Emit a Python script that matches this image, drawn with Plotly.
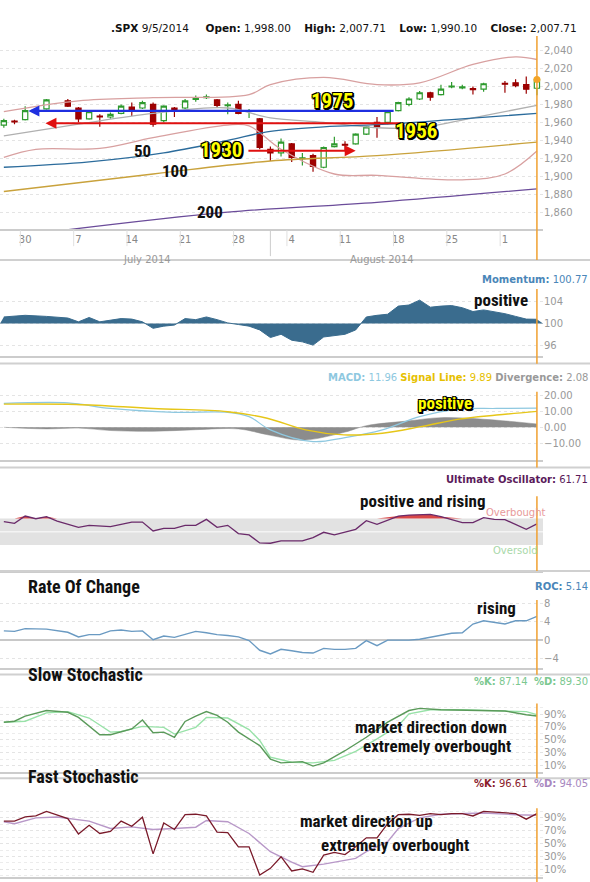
import plotly.graph_objects as go
import numpy as np

W, H = 590, 882
XR = [-0.36, 50.57]
XD = 543 / W

# ---------------- data ----------------
candle_x = [0, 1, 2, 4, 6, 7, 8, 9, 10, 11, 12, 13, 14, 15, 16, 17, 18, 19, 20, 21, 22, 23, 24, 25, 26, 27, 28, 29,
            30, 31, 32, 33, 34, 35, 36, 37, 38, 39, 40, 41, 42, 43, 44, 45, 47, 48, 49, 50]
c_open = [1957, 1961.5, 1963, 1975, 1984, 1976, 1964, 1967, 1966, 1970, 1977, 1976, 1980, 1962, 1976, 1976, 1985.5,
          1987.5, 1985, 1978.5, 1980, 1972.2, 1964, 1930, 1926, 1936, 1919.5, 1923, 1910, 1933, 1935.5, 1936, 1947,
          1960, 1960, 1973, 1980, 1986, 1993, 1991, 1999.5, 1998.5, 1997.5, 1997, 2003.5, 2004, 2002, 1998]
c_close = [1962, 1960.5, 1973, 1985, 1978, 1964, 1972, 1966, 1969, 1978, 1973, 1982, 1958, 1978, 1973, 1984, 1986.5,
           1988.5, 1979, 1979.5, 1970, 1973.2, 1932, 1926, 1938, 1921, 1920.5, 1911, 1932, 1936, 1934.5, 1947, 1955,
           1955, 1972, 1982, 1986, 1993, 1988, 1997, 2000.5, 1999.5, 1996.5, 2003, 2002.5, 2001, 1997, 2007.71]
c_high = [1964, 1963, 1978, 1986, 1986, 1977, 1973, 1969, 1971, 1980, 1982, 1984, 1982, 1979, 1977, 1986, 1990, 1991,
          1986, 1982, 1984, 1975, 1965, 1933, 1942, 1937, 1926, 1925, 1933, 1944, 1939, 1948, 1956, 1966, 1973, 1983,
          1988, 1995, 1994, 2002, 2005, 2002, 2000, 2004, 2006, 2008, 2011, 2007.71]
c_low = [1954, 1958, 1962, 1974, 1977, 1960, 1963, 1955, 1964, 1969, 1967, 1975, 1955, 1960, 1966, 1975, 1983, 1986,
         1976, 1969, 1969, 1965, 1930, 1917, 1922, 1916, 1912, 1905, 1909, 1932, 1928, 1935, 1946, 1943, 1958, 1972,
         1978, 1985, 1984, 1990, 1998, 1997, 1991, 1994, 1993, 1999, 1992, 1990.10]

ma50_x = [0, 8, 15, 21, 25, 30, 36, 42, 50]
ma50_y = [1910, 1916, 1926, 1940, 1950, 1955, 1958, 1963, 1970]
ma100_x = [0, 14, 25, 35, 50]
ma100_y = [1883, 1902.5, 1917, 1923, 1938]
ma200_x = [5, 21, 35, 50]
ma200_y = [1839, 1860, 1871, 1886]
mid_x = [0, 7, 14, 21, 25, 30, 35, 39, 44, 50]
mid_y = [1945, 1958, 1970, 1976, 1965, 1960, 1954, 1954, 1965, 1979]
bbu_x = [0, 7, 14, 23, 25, 30, 35, 39, 44, 48, 50]
bbu_y = [1972, 1984, 1987.5, 1991, 2002, 2010, 2002, 2004, 2024.5, 2033, 2030]
bbl_x = [0, 3, 9, 14, 21, 23, 26, 31, 35, 43, 47, 50]
bbl_y = [1921, 1930, 1931, 1943, 1957, 1956, 1930, 1902.5, 1901, 1896, 1902.5, 1928]

level_labels = ["1975", "1956", "1930"]
level_line_y = [1972.7, 1959, 1928.4]
level_from = [36.7, 37.3, 22.8]
level_to = [2.3, 3.9, 33.0]
level_text_x = [30.8, 38.7, 20.4]
level_text_y = [1983.8, 1950.6, 1929]
level_colors = ["#1f2fe0", "#e01010", "#e01010"]

ma_labels = ["50", "100", "200"]
ma_label_x = [13.0, 16.1, 19.3]
ma_label_y = [1928, 1906, 1860]

tick_idx = [2, 7, 12, 17, 22, 27, 32, 37, 42, 47]
tick_txt = ["30", "7", "14", "21", "28", "4", "11", "18", "25", "1"]
months = ["July 2014", "August 2014"]
month_x = [13.4, 35.5]

mom_x = candle_x
mom_y = [101.2, 101.3, 101.5, 101.3, 101.0, 100.3, 101.1, 100.3, 100.6, 100.9, 100.8, 100.3, 99.1, 99.5, 99.7, 100.9,
         100.7, 101.2, 100.7, 100.1, 99.8, 99.5, 98.8, 97.4, 98.0, 96.9, 96.6, 96.0, 97.5, 97.8, 98.0, 98.8, 101.2,
         101.5, 101.7, 103.2, 103.4, 104.3, 103.0, 103.2, 103.3, 102.9, 102.2, 102.5, 101.8, 101.3, 100.8, 100.77]

macd_x = [0, 6, 10, 16, 21, 23, 25, 29, 32, 35.5, 39, 42.7, 46.2, 50]
macd_y = [14.8, 15.2, 11.7, 9.3, 9.3, 6.6, -1.6, -8.9, -6.4, -1.6, 6.6, 11.3, 11.7, 11.96]
sig_x = [0, 6.8, 14, 21, 24.7, 28.3, 31.9, 35.5, 39.1, 42.7, 46.2, 50]
sig_y = [14.4, 14.2, 11.7, 9.7, 5.6, -1.6, -4.7, -3.7, 0.4, 5.1, 7.6, 9.89]
div_x = [0, 4, 7, 10, 14, 18, 22, 25, 28, 32, 34, 38, 41, 45, 50]
div_y = [0, -1, -0.5, -2, -2.5, -1.5, -1, -5, -8, -3, 1, 4, 6, 5, 2.08]

uo_x = [0, 1, 2, 3, 4, 5, 7, 8, 10, 11, 12, 13, 14, 15, 16, 17, 18, 19, 20, 21, 22, 23, 24, 25, 26, 28, 29, 30, 31,
        33, 34, 35, 37, 38, 40, 41, 43, 44, 45, 46, 47, 49, 50]
uo_y = [65, 62.5, 73.5, 69.5, 72.5, 66, 56.5, 59.5, 57.5, 61, 64.5, 64.5, 51, 55, 55, 59.5, 59.5, 68.5, 56.5, 59.5,
        47, 45, 33, 32.5, 36, 36, 41, 49, 45, 53.5, 66.5, 61, 73.5, 75, 76, 72.5, 63.5, 63.5, 71, 68.5, 68, 53.5, 61.71]

roc_x = [0, 1, 2, 3, 4, 6, 7, 8, 9, 10, 11, 12, 13, 14, 15, 16] + list(range(18, 51))
roc_y = [2.0, 1.9, 2.5, 2.4, 2.4, 1.7, 0.7, 1.2, 1.2, 2.0, 2.2, 1.9, 2.0, 0.1, 0.9, 0.6, 1.9, 1.6, 1.2, 1.0, 0.7,
         -0.1, -2.2, -3.0, -2.0, -2.3, -2.7, -2.8, -1.8, -2.0, -2.0, -1.8, -0.1, -1.2, 0, 0, 0, 0.2, 0.6, 1.1, 1.5,
         1.6, 3.5, 4.2, 3.8, 3.5, 4.2, 4.2, 5.14]

sk_x = [0, 1, 2, 4, 6, 7, 9, 10, 12, 13, 14, 15, 16, 17, 18, 19, 20, 21, 22, 24, 25, 26, 28, 29, 30, 32, 34, 36, 38,
        39, 41, 44, 47, 49, 50]
sk_y = [77.5, 79, 87, 95.7, 93, 85, 58, 58, 67, 81, 61, 62, 54, 78.6, 87, 94, 88, 77.5, 62, 41, 20, 14, 16, 9, 14,
        33, 54, 77.5, 95.7, 99, 96.8, 95.7, 95, 89, 87.14]
sd_x = [0, 2, 4, 6, 8, 10, 11, 13, 15, 16, 18, 19, 21, 23, 24, 25, 27, 29, 31, 33, 35, 37, 38, 40, 43, 46, 49, 50]
sd_y = [77.5, 79, 92, 94, 84, 62, 63, 71, 69.5, 59, 69.5, 85, 84, 66, 49, 23, 15, 14, 18, 32, 51.5, 72, 90.5, 96.8,
        96.8, 95.7, 94, 89.3]

fk_x = list(range(0, 47)) + [48, 49, 50]
fk_y = [85, 85, 91.5, 93, 100, 95, 89, 65, 78.6, 65.7, 69, 85, 77, 91, 34, 82, 72, 95, 95.7, 93, 68, 67, 45, 45, 1.2,
        11.5, 29.6, 7.4, 10.5, 5.4, 32, 36.3, 33, 45, 59, 59, 81, 95, 95.7, 94, 96.7, 95, 96.7, 96.7, 93, 100, 99,
        96.7, 88, 96.61]
fd_x = [0, 1, 3, 5, 8, 10, 12, 14, 16, 18, 19, 21, 23, 25, 27, 28, 30, 33, 34, 36, 37, 39, 41, 45, 48, 50]
fd_y = [84, 81, 90, 91.5, 85, 73.5, 76, 72, 73.5, 75.5, 86, 84, 65.7, 37.4, 21, 14, 18, 27, 37.4, 53, 73.5, 90,
        95.7, 97.7, 95, 94]

# ---------------- layout helpers ----------------
def py(px):
    return 1 - px / H

panels = {  # top px, bottom px
    1: (33, 227), 2: (287.3, 354.3), 3: (390.7, 459), 4: (495, 570),
    5: (599.3, 667.3), 6: (703.3, 771.7), 7: (808, 877)}
orange_spans = {1: (33, 258), 2: (287, 362), 3: (390, 466), 4: (495, 570), 5: (599, 674), 6: (703, 778), 7: (808, 882)}
yranges = {1: [1841, 2056.3], 2: [93.97, 106.3], 3: [-20.6, 21.7], 4: [-9.5, 103.3],
           5: [-6.06, 8.66], 6: [-0.3, 106], 7: [-2, 105]}

fig = go.Figure()
NARROW = "Liberation Sans Narrow, Roboto Condensed, Arial Narrow, sans-serif"
SHADOW = "-1px -1px 0 #000, 1px -1px 0 #000, -1px 1px 0 #000, 1px 1px 0 #000, 2px 2px 0 #000, 0 2px 0 #000, 2px 0 0 #000"

def ax(n):
    return ("x" if n == 1 else f"x{n}"), ("y" if n == 1 else f"y{n}")

def line(n, x, y, color, width=1.2, **kw):
    xa, ya = ax(n)
    fig.add_trace(go.Scatter(x=x, y=y, mode="lines", line=dict(color=color, width=width), xaxis=xa, yaxis=ya,
                             hoverinfo="skip", **kw))

for xs, ys, col in [(bbu_x, bbu_y, "#d8a0a0"), (bbl_x, bbl_y, "#d8a0a0"), (mid_x, mid_y, "#b0b0b0"),
                    (ma50_x, ma50_y, "#2c6c9c"), (ma100_x, ma100_y, "#c9a23c"), (ma200_x, ma200_y, "#6b4c9a")]:
    line(1, xs, ys, col, 1.3, line_shape="spline")
fig.add_trace(go.Candlestick(x=candle_x, open=c_open, high=c_high, low=c_low, close=c_close, whiskerwidth=0,
                             increasing=dict(line=dict(color="#2e9a2e", width=1.2), fillcolor="white"),
                             decreasing=dict(line=dict(color="#9a0000", width=1.2), fillcolor="#a00000"),
                             xaxis="x", yaxis="y", hoverinfo="skip"))
fig.add_trace(go.Scatter(x=[candle_x[-1]], y=[c_high[-1]], mode="markers", marker=dict(color="#f5a623", size=7),
                         xaxis="x", yaxis="y", hoverinfo="skip"))

line(2, [XR[0], XR[1]], [100, 100], "rgba(0,0,0,0)", 0)
line(2, mom_x, mom_y, "#3a6c8e", 1, fill="tonexty", fillcolor="#3a6c8e")
line(3, div_x, div_y, "#8c8c8c", 0.5, fill="tozeroy", fillcolor="#8c8c8c", line_shape="spline")
line(3, macd_x, macd_y, "#8ec8e0", 1.2, line_shape="spline")
line(3, sig_x, sig_y, "#e6c619", 1.4, line_shape="spline")
line(4, uo_x, [70] * len(uo_x), "rgba(0,0,0,0)", 0)
line(4, uo_x, list(np.maximum(uo_y, 70)), "rgba(0,0,0,0)", 0, fill="tonexty", fillcolor="#d84848")
line(4, uo_x, uo_y, "#6a2a6a", 1.3)
line(5, roc_x, roc_y, "#6a9ac2", 1.4)
line(6, sd_x, sd_y, "#98e2a8", 1.4)
line(6, sk_x, sk_y, "#5a9a5a", 1.4)
line(7, fd_x, fd_y, "#b898c8", 1.4)
line(7, fk_x, fk_y, "#7a1a2a", 1.3)

layout = dict(width=W, height=H, margin=dict(l=0, r=0, t=0, b=0), showlegend=False,
              paper_bgcolor="white", plot_bgcolor="white", font=dict(family="DejaVu Sans", size=10, color="#888"))
for n in range(1, 8):
    top, bot = panels[n]
    xk = "xaxis" if n == 1 else f"xaxis{n}"
    yk = "yaxis" if n == 1 else f"yaxis{n}"
    xa, ya = ax(n)
    layout[xk] = dict(domain=[0, XD], range=XR, anchor=ya, showgrid=False, zeroline=False,
                      showticklabels=(n == 1), showline=True, linecolor="#cccccc", linewidth=2,
                      rangeslider=dict(visible=False))
    layout[yk] = dict(domain=[py(bot), py(top)], range=yranges[n], anchor=xa, side="right", zeroline=False,
                      gridcolor="#e4e4e4", griddash="dot", tickfont=dict(size=10, color="#999"), ticks="")
layout["xaxis"].update(tickmode="array", tickvals=tick_idx, ticktext=tick_txt, ticks="", ticklen=0,
                       tickfont=dict(size=10, color="#888"))
layout["yaxis"].update(tickvals=list(range(1860, 2041, 20)), tickformat=",")
layout["yaxis2"].update(tickvals=[96, 100, 104])
layout["yaxis3"].update(tickvals=[-10, 0, 10, 20], tickformat=".2f")
layout["yaxis4"].update(showticklabels=False, showgrid=False)
layout["yaxis5"].update(tickvals=[-4, 0, 4, 8], zeroline=True, zerolinecolor="#c8c8c8", zerolinewidth=2)
for k in ("yaxis6", "yaxis7"):
    layout[k].update(tickvals=[10, 30, 50, 70, 90], ticktext=["10%", "30%", "50%", "70%", "90%"],
                     minor=dict(dtick=10, tick0=0, showgrid=True, gridcolor="#ececec"))
fig.update_layout(**layout)

shapes = []
ann = []
for p in [258, 361.7, 466, 570, 673.7, 778]:
    shapes.append(dict(type="line", xref="paper", yref="paper", x0=0, x1=1, y0=py(p), y1=py(p),
                       line=dict(color="#d0d0d0", width=2)))
shapes.append(dict(type="rect", xref="x4", yref="y4", x0=XR[0], x1=XR[1], y0=30, y1=70, fillcolor="#e2e2e2",
                   line=dict(width=0), layer="below"))
shapes.append(dict(type="line", xref="x4", yref="y4", x0=XR[0], x1=XR[1], y0=50, y1=50,
                   line=dict(color="#f4f4f4", width=1.5), layer="below"))
for n, (t, b) in orange_spans.items():
    xa, _ = ax(n)
    shapes.append(dict(type="line", xref=xa, yref="paper", x0=50, x1=50, y0=py(b), y1=py(t),
                       line=dict(color="#f0a030", width=1.5)))
shapes.append(dict(type="line", xref="x", yref="paper", x0=25, x1=25, y0=py(254), y1=py(228),
                   line=dict(color="#cccccc", width=1)))
for xi in tick_idx:
    shapes.append(dict(type="line", xref="x", yref="paper", x0=xi - 0.45, x1=xi - 0.45, y0=py(244), y1=py(228),
                       line=dict(color="#e0e0e0", width=1)))

for lab, yv, x0, x1, tx, ty, col in zip(level_labels, level_line_y, level_from, level_to, level_text_x,
                                        level_text_y, level_colors):
    ann.append(dict(x=x1, y=yv, ax=x0, ay=yv, xref="x", yref="y", axref="x", ayref="y", showarrow=True,
                    arrowhead=2, arrowsize=1, arrowwidth=2.2, arrowcolor=col, text=""))
    ann.append(dict(x=tx, y=ty, xref="x", yref="y", text=f"<b>{lab}</b>", showarrow=False,
                    font=dict(family=NARROW, size=21, color="#ffff00", shadow=SHADOW)))
for lab, tx, ty in zip(ma_labels, ma_label_x, ma_label_y):
    ann.append(dict(x=tx, y=ty, xref="x", yref="y", text=f"<b>{lab}</b>", showarrow=False,
                    font=dict(family=NARROW, size=17, color="#111")))
for m, mx in zip(months, month_x):
    ann.append(dict(x=mx, y=py(249.5), xref="x", yref="paper", text=m, showarrow=False,
                    font=dict(size=10, color="#999")))

ann.append(dict(x=579 / W, y=py(17), xref="paper", yref="paper", xanchor="right", showarrow=False,
                text="<b>.SPX</b> 9/5/2014 &nbsp;&nbsp;&nbsp; <b>Open:</b> 1,998.00 &nbsp;&nbsp; <b>High:</b> 2,007.71"
                     " &nbsp;&nbsp; <b>Low:</b> 1,990.10 &nbsp;&nbsp; <b>Close:</b> 2,007.71",
                font=dict(family="DejaVu Sans", size=10.5, color="#111")))
right_titles = [
    (270.3, "<b>Momentum:</b> 100.77", "#4a86b8"),
    (376, "<span style='color:#8ec8e0'><b>MACD:</b> 11.96</span> <span style='color:#e6c000'><b>Signal Line:</b>"
          " 9.89</span> <span style='color:#999'><b>Divergence:</b> 2.08</span>", "#999"),
    (478.3, "<b>Ultimate Oscillator:</b> 61.71", "#5a1a5a"),
    (585, "<b>ROC:</b> 5.14", "#4a86b8"),
    (688, "<b>%K:</b> 87.14 &nbsp;<b>%D:</b> 89.30", "#7cc890"),
    (791, "<span style='color:#8a1a2a'><b>%K:</b> 96.61</span> &nbsp;<span style='color:#a888c0'><b>%D:</b>"
          " 94.05</span>", "#999"),
]
for yy, txt, col in right_titles:
    ann.append(dict(x=1, y=py(yy), xref="paper", yref="paper", xanchor="right", showarrow=False, text=txt,
                    font=dict(family="DejaVu Sans", size=10, color=col)))
for yy, txt in [(585, "Rate Of Change"), (686, "Slow Stochastic"), (789, "Fast Stochastic")]:
    ann.append(dict(x=26 / W, y=py(yy), xref="paper", yref="paper", xanchor="left", showarrow=False,
                    text=f"<b>{txt}</b>", font=dict(family=NARROW, size=18, color="#111")))

comments = [
    ("x2", "y2", 46.6, 104.4, "positive", "#111", None),
    ("x3", "y3", 41.4, 14.8, "positive", "#ffff00", SHADOW),
    ("x4", "y4", 39.3, 96, "positive and rising", "#111", None),
    ("x5", "y5", 46.2, 7.0, "rising", "#111", None),
    ("x6", "y6", 40.1, 70, "market direction down", "#111", None),
    ("x6", "y6", 40.6, 40.5, "extremely overbought", "#111", None),
    ("x7", "y7", 34.0, 84.5, "market direction up", "#111", None),
    ("x7", "y7", 36.7, 48.0, "extremely overbought", "#111", None),
]
for xa, ya, xv, yv, txt, col, sh in comments:
    f = dict(family=NARROW, size=17, color=col)
    if sh:
        f["shadow"] = sh
    ann.append(dict(x=xv, y=yv, xref=xa, yref=ya, text=f"<b>{txt}</b>", showarrow=False, font=f))
ann.append(dict(x=48, y=78.5, xref="x4", yref="y4", text="Overbought", showarrow=False,
                font=dict(size=10, color="#e89a9a")))
ann.append(dict(x=48, y=21, xref="x4", yref="y4", text="Oversold", showarrow=False,
                font=dict(size=10, color="#a8d8a8")))

fig.update_layout(shapes=shapes, annotations=ann)
fig.write_html("out.html", config={"displayModeBar": False},
               post_script="document.documentElement.style.margin='0';document.body.style.margin='0';"
                           "document.body.style.padding='0';document.body.style.overflow='hidden';")
